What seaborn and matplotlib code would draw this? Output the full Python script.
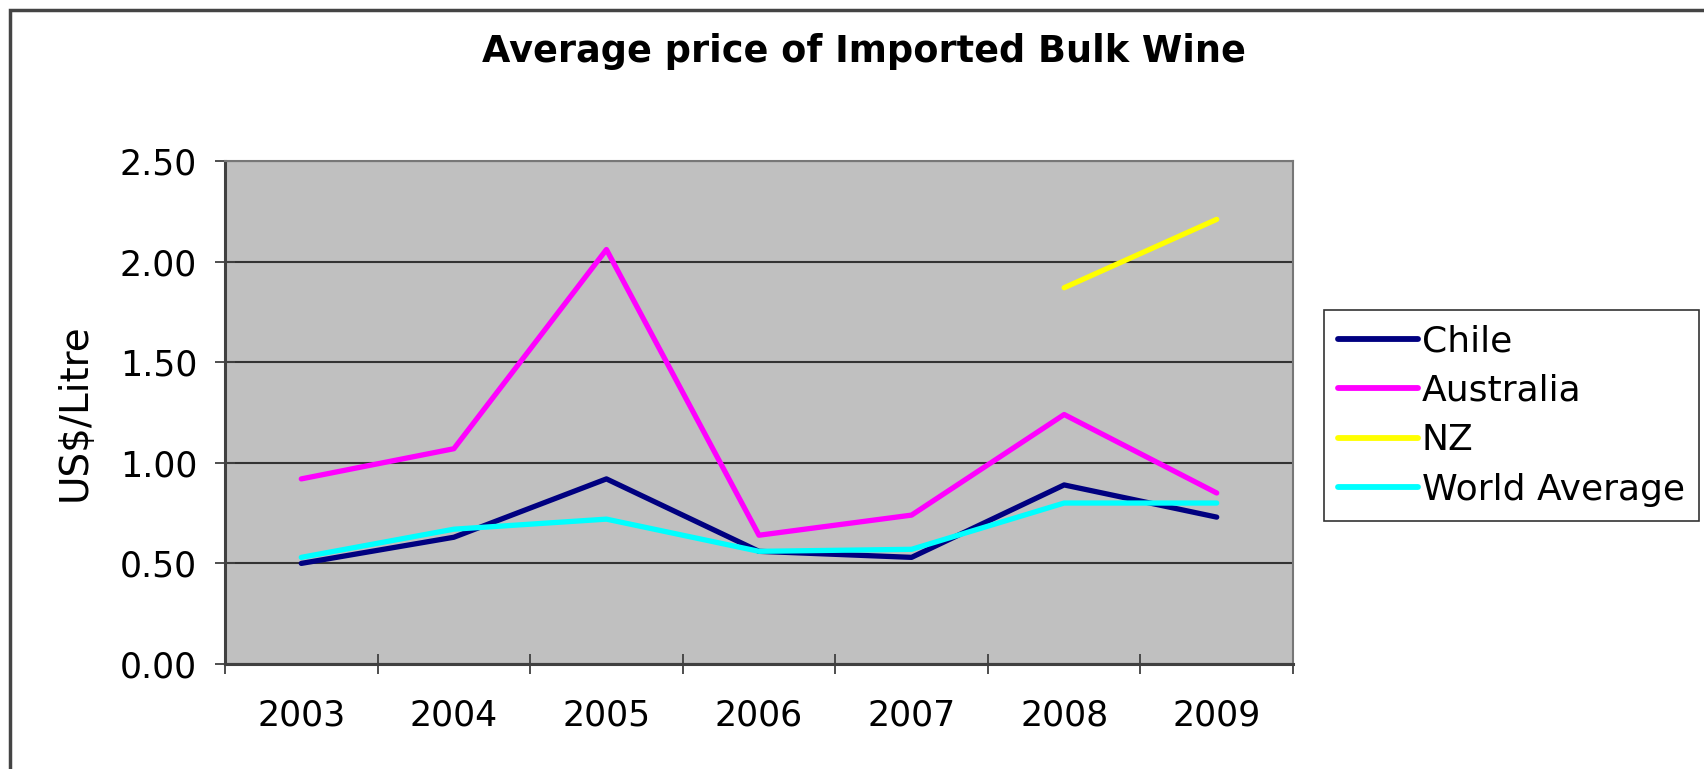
import matplotlib
matplotlib.use("Agg")
import matplotlib.pyplot as plt
import matplotlib.patches as mpatches
from matplotlib.ticker import FixedLocator, NullFormatter
import numpy as np
import pandas as pd
import seaborn as sns

years = ["2003", "2004", "2005", "2006", "2007", "2008", "2009"]
chile = [0.50, 0.63, 0.92, 0.56, 0.53, 0.89, 0.73]
australia = [0.92, 1.07, 2.06, 0.64, 0.74, 1.24, 0.85]
nz = [np.nan, np.nan, np.nan, np.nan, np.nan, 1.87, 2.21]
world_avg = [0.53, 0.67, 0.72, 0.56, 0.57, 0.80, 0.80]

series_names = ["Chile", "Australia", "NZ", "World Average"]
series_colors = ["#000080", "#FF00FF", "#FFFF00", "#00FFFF"]

df = pd.DataFrame({
    "year": years * 4,
    "price": chile + australia + nz + world_avg,
    "series": [s for s in series_names for _ in years],
})

sns.set_style("white")
plt.rcParams["font.family"] = ["DejaVu Sans"]
plt.rcParams["text.color"] = "black"
plt.rcParams["axes.labelcolor"] = "black"
plt.rcParams["xtick.color"] = "black"
plt.rcParams["ytick.color"] = "black"

fig = plt.figure(figsize=(17.04, 7.69), dpi=100)
ax = fig.add_axes([225 / 1704, 1 - 664 / 769, (1293 - 225) / 1704, (664 - 161) / 769])
ax.set_facecolor("#C0C0C0")

sns.lineplot(
    data=df,
    x="year",
    y="price",
    hue="series",
    hue_order=series_names,
    palette=dict(zip(series_names, series_colors)),
    linewidth=3.8,
    sort=False,
    ax=ax,
)

ax.set_xlim(-0.5, 6.5)
ax.set_ylim(0, 2.5)
ax.set_yticks(np.arange(0, 2.51, 0.5))
ax.set_yticklabels([f"{v:.2f}" for v in np.arange(0, 2.51, 0.5)])

# Excel-style category axis: ticks between categories, labels centred
ax.xaxis.set_major_locator(FixedLocator(np.arange(-0.5, 7, 1)))
ax.xaxis.set_major_formatter(NullFormatter())
ax.xaxis.set_minor_locator(FixedLocator(np.arange(7)))
ax.set_xticklabels(years, minor=True)
ax.tick_params(axis="x", which="major", bottom=True, direction="inout",
               length=15, width=1.3, color="#404040")
ax.tick_params(axis="x", which="minor", bottom=True, length=0, pad=25,
               labelsize=25, labelcolor="black")
ax.tick_params(axis="y", left=True, direction="inout", length=15, width=1.3,
               color="#404040", pad=12.5, labelsize=25, labelcolor="black")

ax.grid(axis="y", color="#333333", linewidth=1.5)
ax.set_axisbelow(True)
for side in ["left", "bottom"]:
    ax.spines[side].set_color("#404040")
    ax.spines[side].set_linewidth(2.2)
for side in ["top", "right"]:
    ax.spines[side].set_color("#777777")
    ax.spines[side].set_linewidth(1.5)

ax.set_xlabel("")
ax.set_ylabel("US$/Litre", fontsize=28, color="black")
ax.yaxis.set_label_coords(-0.123, 0.5)

handles, labels = ax.get_legend_handles_labels()
leg = ax.legend(
    handles=handles,
    labels=labels,
    loc="upper left",
    bbox_to_anchor=(1324 / 1704, 1 - 310 / 769),
    bbox_transform=fig.transFigure,
    borderaxespad=0,
    fontsize=26,
    frameon=True,
    fancybox=False,
    edgecolor="black",
    handlelength=2.2,
    handletextpad=0.1,
    borderpad=0.4,
    labelspacing=0.43,
)
leg.get_frame().set_linewidth(1.2)
for line in leg.get_lines():
    line.set_linewidth(4.2)
for txt in leg.get_texts():
    txt.set_color("black")

fig.text(864 / 1704, 1 - 52 / 769, "Average price of Imported Bulk Wine",
         ha="center", va="center", fontsize=26.4, fontweight="bold",
         color="black")

# outer chart frame (cut by the image edges on right and bottom)
fig.add_artist(mpatches.Rectangle(
    (10 / 1704, -0.1), 1.2, 1 - 10 / 769 + 0.1,
    transform=fig.transFigure, fill=False, edgecolor="#444444", linewidth=2.5,
))

fig.savefig("out.png", dpi=100)
